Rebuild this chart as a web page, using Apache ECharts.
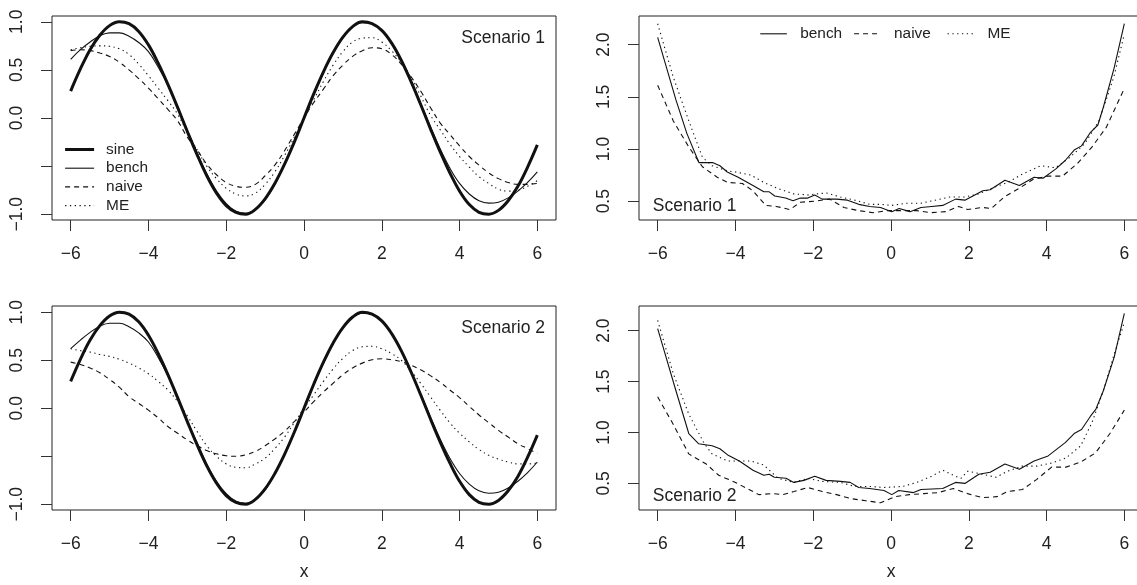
<!DOCTYPE html>
<html><head><meta charset="utf-8">
<script src="https://cdn.jsdelivr.net/npm/echarts@6/dist/echarts.min.js"></script>
<style>html,body{margin:0;padding:0;background:#fff}#c{width:1137px;height:585px}</style>
</head><body><div id="c"></div>
<script>
// ---------- data ----------
const xTickVals = [-6, -4, -2, 0, 2, 4, 6];
const yTicksSine = [-1, -0.5, 0, 0.5, 1];
const yLabelsSine = [-1, 0, 0.5, 1];
const yTicksSd = [0.5, 1, 1.5, 2];

const xFine = [-6,-5.75,-5.5,-5.25,-5,-4.75,-4.5,-4.25,-4,-3.75,-3.5,-3.25,-3,-2.75,-2.5,-2.25,-2,-1.75,-1.5,-1.25,-1,-0.75,-0.5,-0.25,0,0.25,0.5,0.75,1,1.25,1.5,1.75,2,2.25,2.5,2.75,3,3.25,3.5,3.75,4,4.25,4.5,4.75,5,5.25,5.5,5.75,6];
const sineY = [0.28,0.51,0.71,0.86,0.96,1.00,0.98,0.90,0.76,0.57,0.35,0.11,-0.14,-0.38,-0.60,-0.78,-0.91,-0.98,-1.00,-0.95,-0.84,-0.68,-0.48,-0.25,0.00,0.25,0.48,0.68,0.84,0.95,1.00,0.98,0.91,0.78,0.60,0.38,0.14,-0.11,-0.35,-0.57,-0.76,-0.90,-0.98,-1.00,-0.96,-0.86,-0.71,-0.51,-0.28];

// Scenario 1 (left)
const bench1Y = [0.61,0.71,0.79,0.855,0.885,0.885,0.85,0.785,0.69,0.53,0.34,0.11,-0.13,-0.36,-0.58,-0.76,-0.89,-0.97,-0.99,-0.95,-0.85,-0.69,-0.48,-0.25,0.00,0.24,0.47,0.68,0.84,0.95,0.99,0.98,0.91,0.78,0.60,0.39,0.15,-0.09,-0.32,-0.52,-0.68,-0.79,-0.86,-0.885,-0.875,-0.83,-0.76,-0.67,-0.56];
const naive1Y = [0.70,0.71,0.70,0.675,0.64,0.58,0.50,0.41,0.31,0.20,0.09,-0.03,-0.20,-0.33,-0.48,-0.59,-0.67,-0.71,-0.72,-0.69,-0.60,-0.49,-0.34,-0.17,0.00,0.16,0.30,0.44,0.55,0.64,0.70,0.73,0.72,0.66,0.56,0.43,0.28,0.11,-0.05,-0.17,-0.29,-0.40,-0.49,-0.57,-0.63,-0.67,-0.69,-0.69,-0.68];
const me1Y = [0.71,0.73,0.745,0.75,0.745,0.72,0.66,0.56,0.44,0.31,0.18,0.04,-0.15,-0.33,-0.50,-0.63,-0.73,-0.79,-0.81,-0.78,-0.69,-0.56,-0.39,-0.20,0.00,0.19,0.38,0.55,0.69,0.79,0.83,0.835,0.79,0.70,0.58,0.42,0.23,0.03,-0.12,-0.27,-0.40,-0.51,-0.61,-0.68,-0.74,-0.76,-0.75,-0.71,-0.65];
// Scenario 2 (left)
const bench2Y = [0.62,0.71,0.79,0.855,0.885,0.885,0.85,0.785,0.69,0.53,0.34,0.11,-0.13,-0.36,-0.58,-0.76,-0.89,-0.97,-0.99,-0.95,-0.85,-0.69,-0.48,-0.25,0.00,0.24,0.47,0.68,0.84,0.95,0.99,0.98,0.91,0.78,0.60,0.39,0.15,-0.09,-0.32,-0.52,-0.68,-0.79,-0.86,-0.885,-0.875,-0.83,-0.76,-0.67,-0.56];
const naive2Y = [0.48,0.455,0.42,0.37,0.30,0.22,0.12,0.05,-0.02,-0.10,-0.19,-0.26,-0.33,-0.39,-0.44,-0.475,-0.495,-0.50,-0.485,-0.45,-0.39,-0.32,-0.24,-0.14,-0.04,0.07,0.17,0.26,0.35,0.42,0.47,0.505,0.515,0.505,0.485,0.45,0.40,0.34,0.27,0.19,0.11,0.02,-0.07,-0.15,-0.23,-0.30,-0.37,-0.42,-0.47];
const me2Y = [0.62,0.60,0.585,0.56,0.54,0.51,0.47,0.42,0.36,0.28,0.19,0.07,-0.08,-0.24,-0.39,-0.50,-0.58,-0.615,-0.62,-0.58,-0.52,-0.42,-0.30,-0.15,0.00,0.14,0.28,0.41,0.52,0.60,0.64,0.645,0.62,0.57,0.50,0.39,0.26,0.12,-0.02,-0.15,-0.26,-0.35,-0.43,-0.49,-0.53,-0.56,-0.58,-0.58,-0.57];

// Scenario 1 (right)
const sdBench1X = [-6,-5.53,-5.25,-4.94,-4.59,-4.4,-4.21,-3.93,-3.55,-3.27,-3.13,-2.99,-2.71,-2.52,-2.33,-2.14,-1.96,-1.77,-1.4,-1.12,-0.83,-0.55,-0.27,0.02,0.21,0.49,0.77,1.05,1.33,1.66,1.9,2.36,2.55,2.93,3.3,3.68,3.91,4.24,4.48,4.71,4.9,5.13,5.32,5.46,5.74,6];
const sdBench1Y = [2.07,1.47,1.15,0.87,0.87,0.84,0.78,0.73,0.65,0.59,0.59,0.55,0.53,0.505,0.53,0.53,0.56,0.52,0.52,0.51,0.47,0.45,0.44,0.40,0.43,0.40,0.44,0.45,0.46,0.52,0.51,0.60,0.61,0.70,0.65,0.73,0.72,0.81,0.89,0.99,1.03,1.16,1.23,1.40,1.78,2.20];
const sdNaive1X = [-6,-5.6,-5.2,-4.85,-4.47,-4.2,-3.82,-3.55,-3.22,-2.95,-2.6,-2.33,-1.96,-1.58,-1.21,-0.84,-0.46,-0.09,0.29,0.66,1.04,1.41,1.74,1.97,2.35,2.58,2.91,3.28,3.66,4.04,4.41,4.79,5.17,5.54,6];
const sdNaive1Y = [1.61,1.27,1.02,0.83,0.73,0.68,0.67,0.60,0.46,0.45,0.42,0.49,0.50,0.52,0.44,0.41,0.39,0.41,0.41,0.41,0.39,0.40,0.45,0.42,0.44,0.43,0.54,0.62,0.71,0.74,0.74,0.86,1.02,1.21,1.58];
const sdMe1X = [-6,-5.6,-5.2,-4.85,-4.6,-4.2,-4.0,-3.6,-3.27,-2.9,-2.5,-2.14,-1.67,-1.3,-0.93,-0.55,-0.27,0.02,0.39,0.77,1.14,1.51,1.88,2.26,2.63,3.0,3.38,3.85,4.23,4.6,4.98,5.35,5.73,6];
const sdMe1Y = [2.20,1.69,1.27,0.92,0.84,0.79,0.78,0.75,0.68,0.62,0.57,0.56,0.58,0.54,0.51,0.47,0.47,0.46,0.48,0.48,0.51,0.54,0.54,0.57,0.63,0.68,0.76,0.84,0.82,0.92,1.05,1.27,1.69,2.10];

// Scenario 2 (right)
const sdBench2X = [-6,-5.53,-5.2,-4.95,-4.6,-4.4,-4.2,-3.9,-3.55,-3.27,-3.13,-3.0,-2.7,-2.5,-2.24,-1.96,-1.67,-1.3,-1.05,-0.83,-0.55,-0.18,0.02,0.2,0.58,0.77,1.33,1.66,1.9,2.26,2.55,2.93,3.3,3.68,4.04,4.48,4.71,4.9,5.13,5.27,5.46,5.74,6];
const sdBench2Y = [2.02,1.41,0.99,0.89,0.87,0.84,0.78,0.72,0.63,0.58,0.59,0.56,0.55,0.51,0.53,0.57,0.53,0.52,0.51,0.46,0.45,0.43,0.39,0.43,0.41,0.44,0.45,0.51,0.50,0.59,0.61,0.69,0.64,0.72,0.77,0.90,0.99,1.03,1.16,1.23,1.41,1.74,2.17];
const sdNaive2X = [-6,-5.6,-5.2,-4.75,-4.43,-4.0,-3.65,-3.4,-3.05,-2.78,-2.5,-2.14,-1.77,-1.4,-1.02,-0.65,-0.27,0.1,0.47,0.85,1.22,1.6,1.97,2.35,2.72,3.0,3.38,3.75,4.13,4.5,4.88,5.26,5.63,6];
const sdNaive2Y = [1.35,1.08,0.79,0.69,0.58,0.51,0.44,0.39,0.40,0.39,0.42,0.46,0.42,0.39,0.35,0.33,0.31,0.37,0.39,0.40,0.41,0.45,0.40,0.36,0.37,0.42,0.44,0.54,0.66,0.66,0.71,0.80,0.99,1.22];
const sdMe2X = [-6,-5.6,-5.2,-4.8,-4.6,-4.2,-3.6,-3.27,-2.9,-2.5,-2.14,-1.77,-1.3,-0.93,-0.55,-0.18,0.3,0.66,1.04,1.33,1.6,1.8,1.97,2.35,2.7,3.0,3.38,3.75,4.13,4.5,4.88,5.17,5.46,5.74,6];
const sdMe2Y = [2.10,1.58,1.18,0.89,0.79,0.72,0.72,0.68,0.55,0.51,0.55,0.52,0.51,0.47,0.47,0.46,0.47,0.51,0.57,0.63,0.58,0.55,0.62,0.59,0.56,0.62,0.67,0.67,0.70,0.75,0.87,1.10,1.41,1.77,2.08];

// ---------- styling ----------
const FONT = '"Liberation Sans", Arial, Helvetica, sans-serif';
const INK = '#111';
const TXT = '#222';
const DASH = [5, 4];
const DOT = [1.3, 3.5];
const pts = (xs, ys) => xs.map((x, i) => [x, ys[i]]);
const fmtX = v => String(v).replace('-', '\u2212');
const fmtY = v => v.toFixed(1).replace('-', '\u2212');

const gridRects = [
  {left: 52, top: 16, width: 504, height: 204},
  {left: 639, top: 16, width: 504, height: 204},
  {left: 52, top: 306, width: 504, height: 204},
  {left: 639, top: 306, width: 504, height: 204}
];
const yRanges = [[-1.06, 1.06], [0.32, 2.274], [-1.06, 1.065], [0.239, 2.242]];

const grid = gridRects.map(r => Object.assign({
  show: true, borderColor: '#222', borderWidth: 1, backgroundColor: 'transparent',
  containLabel: false, outerBoundsMode: 'none'
}, r));

const xAxis = gridRects.map((r, i) => ({
  gridIndex: i, type: 'value', min: -6.48, max: 6.48, position: 'bottom',
  axisLine: {show: false, onZero: false}, splitLine: {show: false},
  axisTick: {show: true, inside: false, length: 11, customValues: xTickVals, lineStyle: {color: '#333', width: 1}},
  axisLabel: {customValues: xTickVals, formatter: fmtX, fontSize: 17.5, lineHeight: 20, fontFamily: FONT, color: TXT, margin: 24.5},
  name: i >= 2 ? 'x' : '', nameLocation: 'middle', nameGap: 52.5,
  nameTextStyle: {fontSize: 17.5, lineHeight: 20, fontFamily: FONT, color: TXT}
}));

const yAxis = gridRects.map((r, i) => {
  const sine = (i % 2 === 0);
  return {
    gridIndex: i, type: 'value', min: yRanges[i][0], max: yRanges[i][1], position: 'left',
    axisLine: {show: false, onZero: false}, splitLine: {show: false},
    axisTick: {show: true, inside: false, length: 11, customValues: sine ? yTicksSine : yTicksSd, lineStyle: {color: '#333', width: 1}},
    axisLabel: {customValues: sine ? yLabelsSine : yTicksSd, formatter: fmtY, rotate: 90, fontSize: 17.5, lineHeight: 20, fontFamily: FONT, color: TXT, margin: 24.5}
  };
});

function line(name, gi, data, width, type, smooth) {
  return {
    name, type: 'line', xAxisIndex: gi, yAxisIndex: gi, data, smooth: smooth,
    symbol: 'none', showSymbol: false, animation: false, silent: true,
    lineStyle: {color: INK, width: width, type: type},
    itemStyle: {color: INK}
  };
}

const series = [
  line('sine', 0, pts(xFine, sineY), 3, 'solid', 0.4),
  line('bench', 0, pts(xFine, bench1Y), 1.1, 'solid', 0.4),
  line('naive', 0, pts(xFine, naive1Y), 1.1, DASH, 0.4),
  line('ME', 0, pts(xFine, me1Y), 1.1, DOT, 0.4),
  line('bench', 1, pts(sdBench1X, sdBench1Y), 1.1, 'solid', false),
  line('naive', 1, pts(sdNaive1X, sdNaive1Y), 1.1, DASH, false),
  line('ME', 1, pts(sdMe1X, sdMe1Y), 1.1, DOT, false),
  line('sine', 2, pts(xFine, sineY), 3, 'solid', 0.4),
  line('bench', 2, pts(xFine, bench2Y), 1.1, 'solid', 0.4),
  line('naive', 2, pts(xFine, naive2Y), 1.1, DASH, 0.4),
  line('ME', 2, pts(xFine, me2Y), 1.1, DOT, 0.4),
  line('bench', 3, pts(sdBench2X, sdBench2Y), 1.1, 'solid', false),
  line('naive', 3, pts(sdNaive2X, sdNaive2Y), 1.1, DASH, false),
  line('ME', 3, pts(sdMe2X, sdMe2Y), 1.1, DOT, false)
];

const legItem = {
  sine: {name: 'sine', lineStyle: {width: 3, type: 'solid', color: INK}},
  bench: {name: 'bench', lineStyle: {width: 1.1, type: 'solid', color: INK}},
  naive: {name: 'naive', lineStyle: {width: 1.1, type: DASH, color: INK}},
  ME: {name: 'ME', lineStyle: {width: 1.1, type: DOT, color: INK}}
};
const legBase = {
  padding: 0, selectedMode: false, itemHeight: 10,
  itemStyle: {opacity: 0},
  textStyle: {fontSize: 15.4, lineHeight: 14, fontFamily: FONT, color: TXT}
};
const legend = [
  Object.assign({}, legBase, {orient: 'vertical', left: 63.6, top: 142, itemWidth: 29, itemGap: 3.7,
    data: [legItem.sine, legItem.bench, legItem.naive, legItem.ME],
    textStyle: Object.assign({}, legBase.textStyle, {padding: [0, 0, 0, 7]})}),
  Object.assign({}, legBase, {orient: 'horizontal', left: 759.7, top: 26.3, itemWidth: 26.6, data: [legItem.bench],
    textStyle: Object.assign({}, legBase.textStyle, {padding: [0, 0, 0, 8.4]})}),
  Object.assign({}, legBase, {orient: 'horizontal', left: 853.5, top: 26.3, itemWidth: 26.6, data: [legItem.naive],
    textStyle: Object.assign({}, legBase.textStyle, {padding: [0, 0, 0, 8.4]})}),
  Object.assign({}, legBase, {orient: 'horizontal', left: 947, top: 26.3, itemWidth: 26.6, data: [legItem.ME],
    textStyle: Object.assign({}, legBase.textStyle, {padding: [0, 0, 0, 8.4]})})
];

const tStyle = {fontSize: 17.5, lineHeight: 20, fontWeight: 'normal', fontFamily: FONT, color: TXT};
const title = [
  {text: 'Scenario 1', right: 592, top: 28.3, padding: 0, textStyle: tStyle},
  {text: 'Scenario 1', left: 652.8, top: 196.3, padding: 0, textStyle: tStyle},
  {text: 'Scenario 2', right: 592, top: 318.5, padding: 0, textStyle: tStyle},
  {text: 'Scenario 2', left: 652.8, top: 486.3, padding: 0, textStyle: tStyle}
];

const chart = echarts.init(document.getElementById('c'), null, {renderer: 'canvas'});
chart.setOption({
  animation: false, backgroundColor: '#fff',
  grid, xAxis, yAxis, series, legend, title,
  tooltip: {show: false}
});
</script></body></html>
